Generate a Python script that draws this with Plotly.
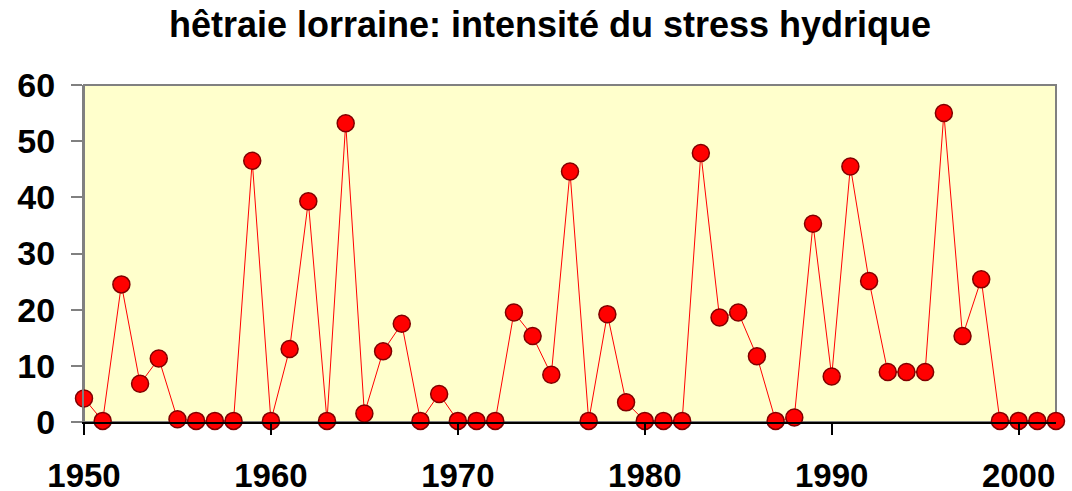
import plotly.graph_objects as go

years = list(range(1950, 2003))
stress = [4.2, 0.2, 24.5, 6.8, 11.3, 0.5, 0.2, 0.2, 0.2, 46.5,
          0.2, 13.0, 39.3, 0.2, 53.2, 1.5, 12.6, 17.5, 0.2, 5.0,
          0.2, 0.2, 0.2, 19.5, 15.3, 8.4, 44.6, 0.2, 19.2, 3.5,
          0.2, 0.2, 0.2, 47.9, 18.6, 19.5, 11.7, 0.2, 0.8, 35.3,
          8.1, 45.5, 25.1, 8.9, 8.9, 8.9, 55.0, 15.3, 25.4, 0.2,
          0.2, 0.2, 0.2]
x_ticks = [1950, 1960, 1970, 1980, 1990, 2000]
y_ticks = [0, 10, 20, 30, 40, 50, 60]
title = "hêtraie lorraine: intensité du stress hydrique"

W, H = 1072, 491

fig = go.Figure()
fig.add_trace(go.Scatter(
    x=years, y=stress, mode="lines+markers",
    line=dict(color="#FF0000", width=1),
    marker=dict(size=17, color="#FF0000", line=dict(color="#800000", width=1.5)),
    cliponaxis=False, showlegend=False,
))

fig.add_shape(type="rect", xref="paper", yref="paper", x0=0, y0=0, x1=1, y1=1,
              line=dict(color="#808080", width=2), layer="below")

fig.update_layout(
    width=W, height=H,
    margin=dict(l=84, r=16, t=85, b=69, autoexpand=False),
    paper_bgcolor="white", plot_bgcolor="#FFFFCC",
    title=dict(text=title, xref="container", x=550 / W, xanchor="center",
               yref="container", y=1 - 24 / H, yanchor="middle",
               font=dict(family="Liberation Sans, Arial", size=36, color="black", weight="bold")),
    font=dict(family="Liberation Sans, Arial", color="black"),
)
fig.update_xaxes(range=[1950, 2002], tickvals=x_ticks, showgrid=False, zeroline=False,
                 showline=True, linecolor="black", linewidth=2, automargin=False,
                 ticks="outside", ticklen=11, tickcolor="black", tickwidth=1.5,
                 tickfont=dict(size=33, weight="bold"), ticklabelstandoff=12)
fig.update_yaxes(range=[0, 60], tickvals=y_ticks, showgrid=False, zeroline=False,
                 showline=True, linecolor="#808080", linewidth=2, automargin=False,
                 ticks="outside", ticklen=11, tickcolor="#808080", tickwidth=1.5,
                 tickfont=dict(size=34, weight="bold"), ticklabelstandoff=9)

fig.write_html("out.html", config={"displayModeBar": False},
               post_script="document.body.style.margin='0';document.body.style.overflow='hidden';")
